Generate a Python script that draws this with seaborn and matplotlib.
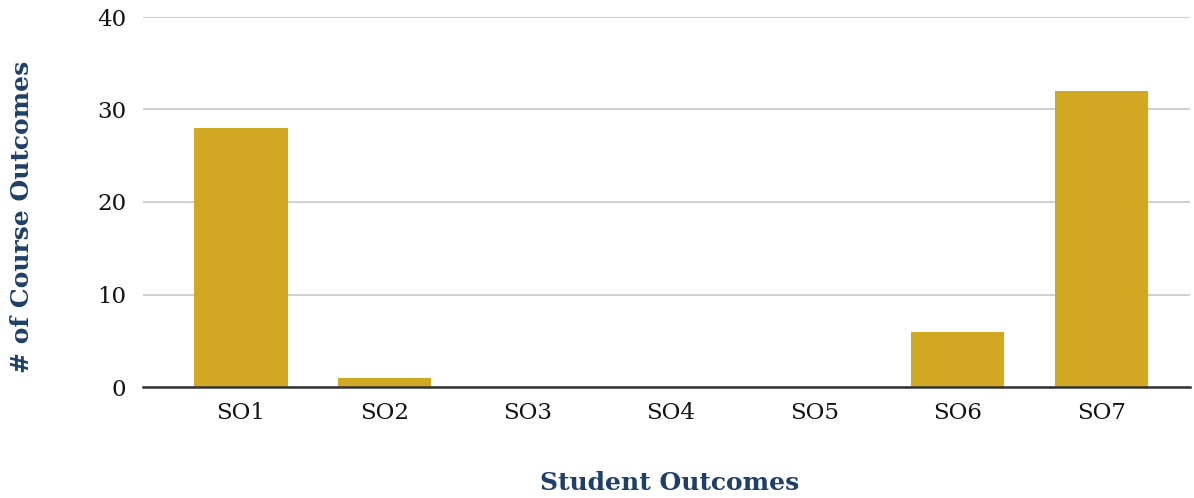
import matplotlib
matplotlib.use("Agg")
import matplotlib.pyplot as plt
import seaborn as sns
import pandas as pd

categories = ["SO1", "SO2", "SO3", "SO4", "SO5", "SO6", "SO7"]
counts = [28, 1, 0, 0, 0, 6, 32]
y_ticks = [0, 10, 20, 30, 40]

sns.set_theme(style="white")
plt.rcParams["font.family"] = ["DejaVu Serif"]

df = pd.DataFrame({"outcome": categories, "count": counts})

fig = plt.figure(figsize=(11.94, 4.98), dpi=100)
ax = fig.add_axes([143 / 1194, 111 / 498, (1190 - 143) / 1194, (387 - 17) / 498])

sns.barplot(data=df, x="outcome", y="count", color="#D1A822", saturation=1,
            width=0.65, ax=ax, zorder=3, linewidth=0)

ax.set_xlim(-0.684, 6.62)
ax.set_ylim(0, 40)
ax.set_yticks(y_ticks)
ax.yaxis.grid(True, color="#cccccc", linewidth=1.3, zorder=0)
ax.xaxis.grid(False)
for s in ["top", "right", "left"]:
    ax.spines[s].set_visible(False)
ax.spines["bottom"].set_color("#333333")
ax.spines["bottom"].set_linewidth(1.8)
ax.spines["bottom"].set_zorder(4)
ax.tick_params(axis="both", length=0, labelsize=16.5, colors="#111111")
ax.tick_params(axis="x", pad=11)
ax.tick_params(axis="y", pad=12)

ax.set_xlabel("Student Outcomes", fontsize=18, fontweight="bold", color="#1F3F66")
ax.set_ylabel("# of Course Outcomes", fontsize=18, fontweight="bold", color="#1F3F66")
ax.xaxis.label.set_verticalalignment("center")
ax.yaxis.label.set_verticalalignment("center")
ax.xaxis.set_label_coords(0.503, -0.259)
ax.yaxis.set_label_coords(-0.1156, 0.459)

fig.savefig("out.png", dpi=100, facecolor="white")
